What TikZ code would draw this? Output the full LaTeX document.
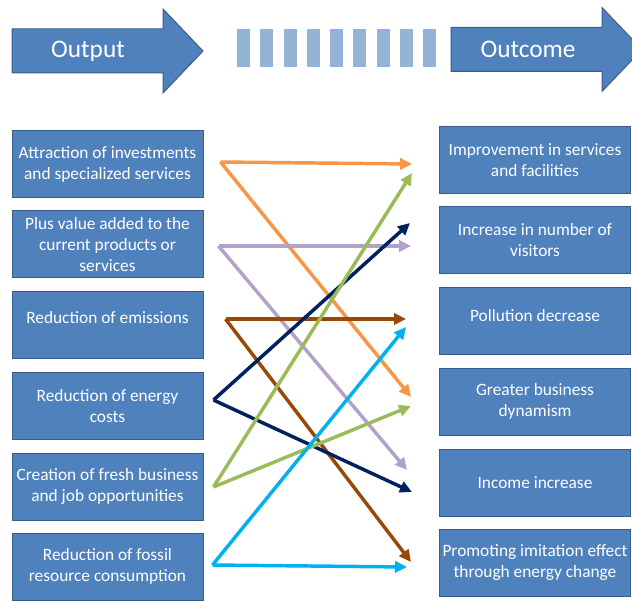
\documentclass[tikz,border=0pt]{standalone}
\usepackage{fontspec}
\setmainfont{Carlito}
\usetikzlibrary{arrows.meta,calc}

\definecolor{boxblue}{RGB}{79,129,189}
\definecolor{boxline}{RGB}{56,93,138}
\definecolor{dashblue}{RGB}{149,179,215}
\definecolor{lnorange}{RGB}{247,150,70}
\definecolor{lnpurple}{RGB}{179,162,199}
\definecolor{lnbrown}{RGB}{152,72,7}
\definecolor{lnnavy}{RGB}{0,32,96}
\definecolor{lngreen}{RGB}{155,187,89}
\definecolor{lncyan}{RGB}{0,176,240}

\tikzset{every picture/.style={line width=0.75pt}}
\tikzset{
  itembox/.style={draw=boxline, fill=boxblue, text=white, minimum width=143.25pt, minimum height=50.25pt, inner sep=1pt, align=center, font=\fontsize{13}{15.75}\selectfont},
  headtext/.style={text=white, font=\fontsize{19}{23}\selectfont},
  link/.style={line width=2.6pt, -{Triangle[length=9pt,width=8.5pt]}},
}

\begin{document}
\begin{tikzpicture}[x=0.75pt,y=0.75pt,yscale=-1,xscale=1]
	\path [clip] (0,0) rectangle (632,602);

	%Shape: Right Arrow
	\draw [draw=boxline, fill=boxblue] (12,29) -- (163,29) -- (163,9) -- (203,51) -- (163,93) -- (163,73) -- (12,73) -- cycle ;
	%Shape: Right Arrow
	\draw [draw=boxline, fill=boxblue] (451,27.5) -- (602,27.5) -- (602,7.5) -- (642,49.5) -- (602,91.5) -- (602,71.5) -- (451,71.5) -- cycle ;
	%Shape: Rectangle (dashes)
	\foreach \i in {0,...,8}
		\fill [dashblue] (237+23.25*\i,29) rectangle ++(13,38) ;

	% Text Node
	\node [headtext] (output) at (88,51) {Output};
	% Text Node
	\node [headtext] (outcome) at (528,49.5) {Outcome};

	% output boxes
	\node [itembox] (a1) at (107.5,164) {Attraction of investments\\and specialized services};
	\node [itembox] (a2) at (107.5,244.5) {Plus value added to the\\current products or\\services};
	\node [itembox, text depth=12pt] (a3) at (107.5,325.5) {Reduction of emissions};
	\node [itembox] (a4) at (107.5,406) {Reduction of energy\\costs};
	\node [itembox] (a5) at (107.5,486.5) {Creation of fresh business\\and job opportunities};
	\node [itembox] (a6) at (107.5,566.5) {Reduction of fossil\\resource consumption};

	% outcome boxes
	\node [itembox] (b1) at (535,160.5) {Improvement in services\\and facilities};
	\node [itembox] (b2) at (535,240.5) {Increase in number of\\visitors};
	\node [itembox, text depth=9pt] (b3) at (535,321.5) {Pollution decrease};
	\node [itembox] (b4) at (535,401.5) {Greater business\\dynamism};
	\node [itembox] (b5) at (535,482.5) {Income increase};
	\node [itembox] (b6) at (535,562.5) {Promoting imitation effect\\through energy change};

	% arrow starts
	\coordinate (s1) at ($(a1.east)+(17,-2)$);
	\coordinate (s2) at ($(a2.east)+(15,1.5)$);
	\coordinate (s3) at ($(a3.east)+(22,-6.5)$);
	\coordinate (s4) at ($(a4.east)+(10,-6)$);
	\coordinate (s5) at ($(a5.east)+(10,0.5)$);
	\coordinate (s6) at ($(a6.east)+(9,-1.5)$);

	%Straight Lines
	\draw [link, lnorange] (s1) -- ($(b1.west)+(-27,3.5)$) ;
	\draw [link, lnorange] (s1) -- ($(b4.west)+(-28,-4.5)$) ;
	\draw [link, lnpurple] (s2) -- ($(b2.west)+(-28,5.5)$) ;
	\draw [link, lnpurple] (s2) -- ($(b5.west)+(-32,-12.5)$) ;
	\draw [link, lnbrown] (s3) -- ($(b3.west)+(-33,-2.5)$) ;
	\draw [link, lnbrown] (s3) -- ($(b6.west)+(-28,-0.5)$) ;
	\draw [link, lnnavy] (s4) -- ($(b2.west)+(-29,-17.5)$) ;
	\draw [link, lnnavy] (s4) -- ($(b5.west)+(-27,9.5)$) ;
	\draw [link, lngreen] (s5) -- ($(b1.west)+(-27,12.5)$) ;
	\draw [link, lngreen] (s5) -- ($(b4.west)+(-28,4.5)$) ;
	\draw [link, lncyan] (s6) -- ($(b3.west)+(-33,5.5)$) ;
	\draw [link, lncyan] (s6) -- ($(b6.west)+(-32,4.5)$) ;

\end{tikzpicture}
\end{document}
